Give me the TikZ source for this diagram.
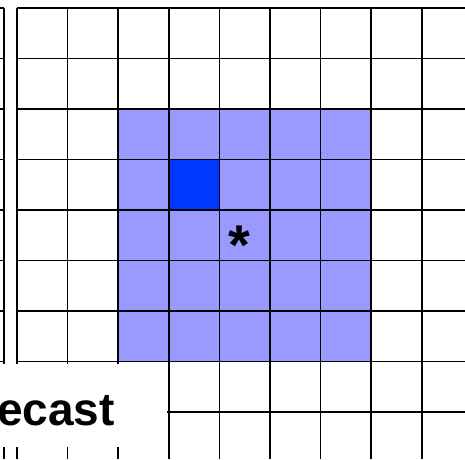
\documentclass[tikz,border=0pt]{standalone}
\usepackage{fontspec}
\setmainfont{Liberation Sans}
\usetikzlibrary{positioning}
\definecolor{cellblue}{RGB}{153,153,255}
\definecolor{hitblue}{RGB}{0,56,255}

\begin{document}
\begin{tikzpicture}[x=1pt, y=-1pt, gridline/.style={line width=1.6pt, black},
    bigtext/.style={font=\fontsize{46}{46}\selectfont\bfseries, inner sep=0pt}]
    \useasboundingbox (0,0) rectangle (465,459);
    % shaded window and centre cell
    \fill[cellblue] (118.2,109) rectangle (371.2,361.5);
    \fill[hitblue] (168.8,159.5) rectangle (219.4,210);
    % edge of the grid on the left
    \foreach \r in {0,...,8}
        \draw[gridline] (0,{8+50.5*\r}) -- (4,{8+50.5*\r});
    \draw[gridline] (4,8) -- (4,459);
    % main grid
    \foreach \c in {0,...,8}
        \draw[gridline] ({17+50.6*\c},8) -- ({17+50.6*\c},459);
    \foreach \r in {0,...,8}
        \draw[gridline] (17,{8+50.5*\r}) -- (465,{8+50.5*\r});
    % label box
    \fill[white] (0,364) rectangle (167,447);
    \node[bigtext, anchor=base west] (label) at (-3,425) {ecast};
    \node[bigtext, font=\fontsize{56}{56}\selectfont\bfseries, anchor=base] (star) at (239,264) {*};
\end{tikzpicture}
\end{document}
